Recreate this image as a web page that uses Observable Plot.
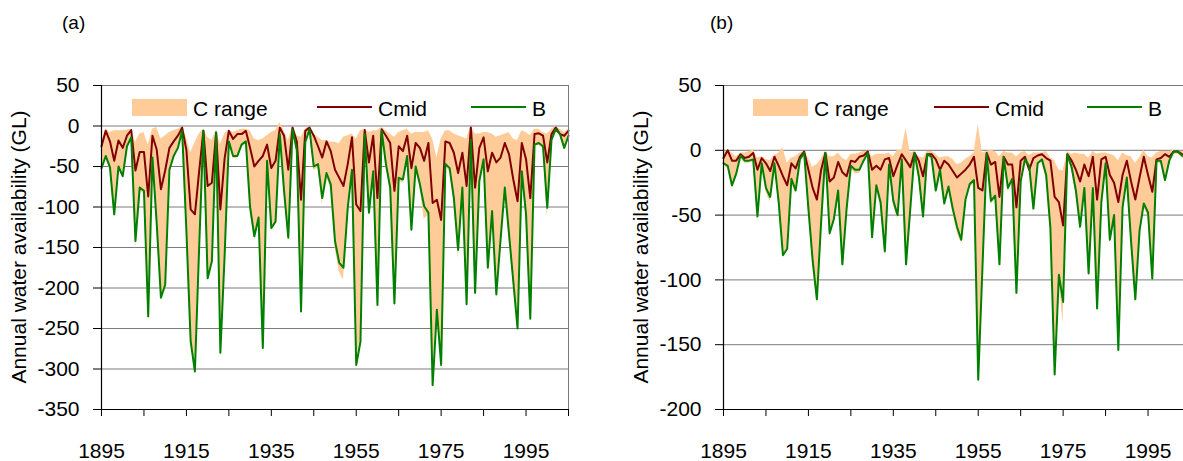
<!DOCTYPE html>
<html>
<head>
<meta charset="utf-8">
<script src="https://cdn.jsdelivr.net/npm/d3@7"></script>
<script src="https://cdn.jsdelivr.net/npm/@observablehq/plot@0.6"></script>
<style>
  html, body { margin: 0; padding: 0; background: #ffffff; }
  #wrap { position: relative; width: 1183px; height: 461px; overflow: hidden; background: #fff;
          font-family: "Liberation Sans", Arial, sans-serif; }
  #wrap > svg { position: absolute; top: 0; }
</style>
</head>
<body>
<div id="wrap"></div>
<script>
// ---------- data ----------
const years = d3.range(1895, 2006); // 1895 … 2005, one value per year

// Panel (a)
const bA = [
  -52, -37, -51, -109, -50, -62, -25, -14, -142, -76,
  -80, -235, -39, -120, -212, -196, -54, -37, -27, -6,
  -130, -266, -303, -150, -6, -188, -167, -8, -280, -160,
  -19, -37, -37, -23, -19, -100, -136, -113, -274, -43,
  -126, -118, -10, -80, -138, -4, -30, -229, -20, -4,
  -50, -47, -89, -58, -72, -142, -169, -175, -101, -54,
  -295, -266, -10, -107, -56, -221, -6, -47, -76, -219,
  -64, -66, -37, -128, -50, -72, -99, -107, -320, -227,
  -295, -47, -52, -89, -153, -76, -220, -17, -206, -68,
  -41, -175, -105, -208, -140, -76, -134, -192, -250, -56,
  -109, -238, -23, -21, -25, -101, -17, -4, -10, -27,
  -12
];
const cmidA = [
  -25, -6, -19, -43, -18, -27, -12, -5, -55, -32,
  -32, -87, -12, -29, -78, -55, -27, -19, -12, -2,
  -30, -103, -109, -56, -6, -74, -70, -8, -103, -40,
  -6, -16, -10, -10, -6, -27, -50, -43, -37, -23,
  -52, -43, -2, -12, -54, -2, -19, -91, -6, -2,
  -12, -25, -39, -19, -31, -54, -64, -74, -47, -14,
  -97, -105, -5, -45, -12, -89, -4, -12, -21, -80,
  -25, -31, -12, -52, -21, -27, -43, -21, -95, -91,
  -116, -19, -21, -33, -58, -33, -74, -2, -76, -27,
  -14, -56, -33, -45, -39, -21, -35, -66, -93, -21,
  -41, -89, -10, -9, -12, -45, -10, -2, -10, -12,
  -6
];
const cHighA = [
  -21, -3, -8, -6, -6, -6, -5, -4, -20, -10,
  -8, -23, -4, -2, -16, -12, -8, -6, -4, -1,
  -14, -33, -21, -10, -4, -14, -18, -6, -23, -10,
  -5, -8, -6, -4, -4, -6, -16, -18, -16, -12,
  -8, -6, 4, -6, -18, -1, -12, -14, -4, -1,
  -10, -14, -18, -18, -20, -20, -22, -14, -12, -10,
  -16, -6, -4, -8, -6, -6, -2, -6, -10, -14,
  -8, -6, -4, -10, -8, -8, -8, -6, -16, -39,
  -16, -6, -6, -10, -12, -14, -16, 0, -10, -10,
  -8, -8, -10, -14, -12, -10, -8, -16, -18, -6,
  -8, -12, -4, -4, -8, -10, -4, -1, -4, -8,
  -4
];
const cLowA = [
  -55, -40, -55, -112, -52, -64, -28, -16, -153, -80,
  -84, -232, -42, -122, -212, -196, -56, -40, -30, -8,
  -132, -262, -298, -150, -8, -190, -170, -10, -278, -160,
  -22, -40, -40, -26, -22, -105, -140, -118, -270, -46,
  -130, -122, -12, -85, -140, -6, -32, -226, -24, -6,
  -55, -52, -97, -62, -78, -150, -180, -190, -108, -58,
  -288, -262, -12, -110, -60, -218, -8, -52, -80, -216,
  -68, -70, -40, -130, -54, -76, -115, -110, -302, -225,
  -290, -50, -56, -95, -163, -80, -218, -20, -204, -72,
  -45, -178, -110, -205, -142, -80, -138, -195, -246, -60,
  -112, -235, -26, -24, -28, -112, -20, -6, -12, -30,
  -14
];

// Panel (b)
const bB = [
  -10, -12, -27, -18, -4, -8, -8, -7, -51, -10,
  -29, -36, -10, -40, -81, -76, -22, -31, -7, -2,
  -45, -85, -115, -55, -2, -64, -53, -31, -88, -45,
  -12, -15, -15, -8, -2, -67, -27, -40, -78, -11,
  -39, -50, -7, -88, -45, -2, -20, -51, -3, -5,
  -31, -15, -41, -28, -45, -59, -69, -38, -26, -23,
  -177, -90, -3, -39, -35, -88, -5, -29, -22, -110,
  -24, -7, -12, -45, -10, -7, -19, -60, -173, -96,
  -117, -3, -13, -31, -59, -29, -95, -29, -122, -40,
  -10, -69, -50, -154, -44, -21, -70, -115, -62, -41,
  -48, -99, -8, -8, -23, -8, -1, -1, -4, -5,
  -5
];
const cmidB = [
  -6, 0, -8, -8, -3, -6, -5, -2, -15, -6,
  -10, -16, -5, -12, -20, -27, -10, -14, -5, -1,
  -15, -29, -38, -15, -2, -24, -21, -9, -17, -20,
  -8, -9, -5, -4, -1, -15, -12, -15, -7, -6,
  -20, -11, -3, -8, -13, -2, -8, -20, -3, -3,
  -7, -15, -8, -11, -16, -21, -18, -15, -11, -5,
  -29, -31, -2, -11, -9, -36, -5, -11, -11, -44,
  -8, -5, -15, -6, -4, -3, -6, -8, -36, -40,
  -58, -3, -8, -15, -24, -11, -20, -5, -38, -7,
  -5, -19, -25, -40, -19, -8, -24, -38, -21, -5,
  -19, -32, -7, -6, -3, -5, -1, -1, -3, -4,
  -4
];
const cHighB = [
  -2, 0, -2, -5, -2, -2, -1, 0, -6, -5,
  -7, -8, -4, -2, 2, -10, -6, -5, -2, -1,
  -6, -13, -11, -7, -1, -5, -5, -2, -6, -8,
  -3, -3, -2, -1, -1, -5, -3, -3, -3, -2,
  -5, 0, 0, 17, -2, -1, -5, -6, -1, -1,
  -3, -6, -5, -5, -7, -11, -10, -7, -5, -2,
  20, -2, -1, 0, -1, -5, -1, -2, -2, -5,
  -2, -1, -4, -2, -2, -2, -1, -6, -8, -15,
  -16, -1, -3, -2, -3, -3, -6, -1, -3, -2,
  -2, -3, -4, -8, -2, -4, -5, -10, -6, 0,
  -5, -6, -2, -1, -1, -1, 0, -1, -1, -1,
  -1
];
const cLowB = [
  -12, -14, -30, -20, -6, -10, -10, -9, -54, -12,
  -32, -40, -12, -42, -80, -78, -25, -34, -9, -4,
  -48, -88, -118, -58, -4, -66, -56, -34, -90, -48,
  -14, -18, -18, -10, -4, -68, -30, -43, -80, -14,
  -42, -53, -9, -86, -48, -4, -23, -53, -5, -7,
  -34, -18, -44, -31, -48, -63, -72, -41, -29, -26,
  -170, -92, -5, -42, -38, -90, -7, -32, -25, -116,
  -27, -9, -15, -48, -12, -9, -22, -63, -165, -98,
  -134, -5, -16, -34, -62, -32, -97, -32, -125, -43,
  -12, -72, -53, -150, -47, -24, -73, -118, -65, -44,
  -51, -102, -10, -10, -26, -10, -3, -3, -6, -7,
  -7
];

// axes
const yTicksA = [50, 0, -50, -100, -150, -200, -250, -300, -350];
const yTicksB = [50, 0, -50, -100, -150, -200];
const xMinorTicks = [1895, 1905, 1915, 1925, 1935, 1945, 1955, 1965, 1975, 1985, 1995, 2005];
const xLabelYears = [1895, 1915, 1935, 1955, 1975, 1995];

const seriesNames = ["C range", "Cmid", "B"];
const panelLabels = ["(a)", "(b)"];
const yTitle = "Annual water availability (GL)";

const COLORS = { range: "#FFCC99", cmid: "#800000", b: "#008000", grid: "#7a7a7a" };
const FONT = "'Liberation Sans', Arial, sans-serif";

function table(b, cmid, lo, hi) {
  return years.map((year, i) => ({ year, b: b[i], cmid: cmid[i], low: lo[i], high: hi[i] }));
}

function panel(data, yDomain, yTicks) {
  return Plot.plot({
    width: 600, height: 461,
    marginLeft: 101, marginRight: 32, marginTop: 85, marginBottom: 52,
    x: { domain: [1895, 2005], label: null },
    y: { domain: yDomain, label: null },
    style: { fontFamily: FONT, fontSize: "21px", color: "#000", background: "transparent", overflow: "visible" },
    marks: [
      Plot.gridY(yTicks, { stroke: COLORS.grid, strokeOpacity: 1, strokeWidth: 1 }),
      Plot.areaY(data, { x: "year", y1: "low", y2: "high", fill: COLORS.range, curve: "linear" }),
      Plot.lineY(data, { x: "year", y: "cmid", stroke: COLORS.cmid, strokeWidth: 2 }),
      Plot.lineY(data, { x: "year", y: "b", stroke: COLORS.b, strokeWidth: 2 }),
      Plot.frame({ stroke: COLORS.grid }),
      Plot.ruleX([1895], { stroke: "#000", strokeWidth: 1.2 }),
      Plot.ruleY([yDomain[0]], { stroke: "#000", strokeWidth: 1.2 }),
      Plot.axisY({ ticks: yTicks, label: null, tickSize: 8, tickPadding: 14, tickFormat: d => String(d), fontSize: 21, stroke: "#000" }),
      Plot.axisX({ ticks: xMinorTicks, label: null, tickSize: 7, tickFormat: () => "", stroke: "#000" }),
      Plot.axisX({ ticks: xLabelYears, label: null, tickSize: 0, tickPadding: 34, tickFormat: d => String(d), fontSize: 21 })
    ]
  });
}

const wrap = document.getElementById("wrap");
const svgA = panel(table(bA, cmidA, cLowA, cHighA), [-350, 50], yTicksA);
svgA.style.left = "0px";
wrap.appendChild(svgA);
const svgB = panel(table(bB, cmidB, cLowB, cHighB), [-200, 50], yTicksB);
svgB.style.left = "622px";
wrap.appendChild(svgB);

// overlay: panel labels, y titles, legends
const ov = d3.select(wrap).append("svg")
  .attr("width", 1183).attr("height", 461)
  .style("left", "0px").style("font-family", FONT);

const panelsLayout = [
  { label: panelLabels[0], lx: 62, titleX: 26, sw: 132, cm: 317, bl: 471 },
  { label: panelLabels[1], lx: 710, titleX: 648, sw: 753, cm: 934, bl: 1087 }
];
for (const p of panelsLayout) {
  ov.append("text").attr("x", p.lx).attr("y", 29).attr("font-size", 19).text(p.label);
  ov.append("text")
    .attr("transform", `translate(${p.titleX},247) rotate(-90)`)
    .attr("text-anchor", "middle").attr("font-size", 21).text(yTitle);
  // legend
  ov.append("rect").attr("x", p.sw).attr("y", 99).attr("width", 55).attr("height", 17).attr("fill", COLORS.range);
  ov.append("text").attr("x", p.sw + 61).attr("y", 116).attr("font-size", 21).text(seriesNames[0]);
  ov.append("line").attr("x1", p.cm).attr("x2", p.cm + 55).attr("y1", 107).attr("y2", 107)
    .attr("stroke", COLORS.cmid).attr("stroke-width", 2);
  ov.append("text").attr("x", p.cm + 61).attr("y", 116).attr("font-size", 21).text(seriesNames[1]);
  ov.append("line").attr("x1", p.bl).attr("x2", p.bl + 55).attr("y1", 107).attr("y2", 107)
    .attr("stroke", COLORS.b).attr("stroke-width", 2);
  ov.append("text").attr("x", p.bl + 61).attr("y", 116).attr("font-size", 21).text(seriesNames[2]);
}
</script>
</body>
</html>
